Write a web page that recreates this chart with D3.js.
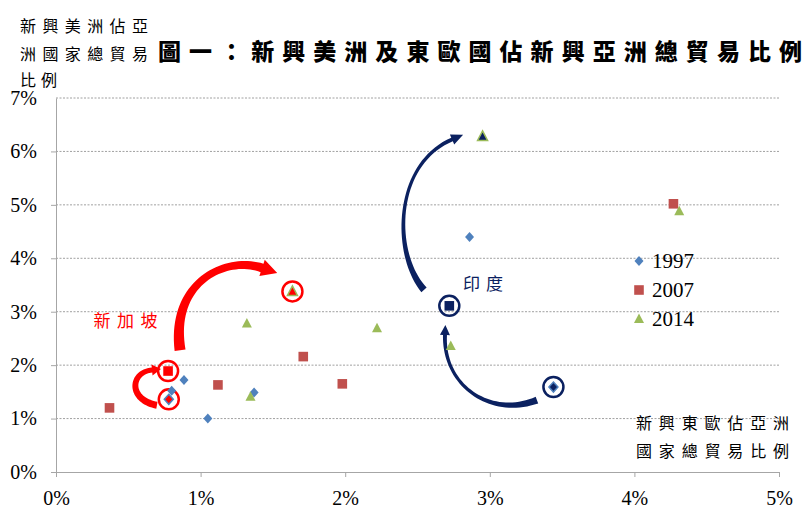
<!DOCTYPE html>
<html>
<head>
<meta charset="utf-8">
<script src="https://cdn.jsdelivr.net/npm/d3@7"></script>
<style>
body { margin: 0; background: #fff; }
svg { display: block; }
.tick text { font-family: "Liberation Serif", "Times New Roman", serif; font-size: 20px; fill: #000; }
.axis path, .axis line { stroke: #a6a6a6; }
</style>
</head>
<body>
<svg id="chart" width="805" height="505"></svg>
<script>
// x = 新興東歐佔亞洲總貿易比例 (%), y = 新興美洲佔亞洲總貿易比例 (%)
const years = ["1997", "2007", "2014"];
const colors = ["#4f81bd", "#c0504d", "#9bbb59"];

const eu1997 = [2.86, 3.44, 0.885, 0.80, 0.78, 1.05, 1.37];
const am1997 = [4.40, 1.59, 1.72, 1.52, 1.36, 1.00, 1.49];
const tag1997 = ["", "印度", "", "", "新加坡", "", ""];

const eu2007 = [0.37, 0.775, 1.12, 1.71, 1.98, 2.72, 4.27];
const am2007 = [1.20, 1.89, 1.63, 2.16, 1.65, 3.11, 5.02];
const tag2007 = ["", "新加坡", "", "", "", "印度", ""];

const eu2014 = [2.95, 4.31, 1.635, 1.32, 1.345, 2.22, 2.73];
const am2014 = [6.28, 4.88, 3.38, 2.78, 1.41, 2.69, 2.36];
const tag2014 = ["印度", "", "新加坡", "", "", "", ""];

const xTicks = [0, 1, 2, 3, 4, 5];
const yTicks = [0, 1, 2, 3, 4, 5, 6, 7];

const highlight = { "新加坡": "#ff0000", "印度": "#0b2160" };

// annotation arrows in data units: cubic bezier points
const sgpBigArrow = [[0.858, 2.28], [0.79, 3.55], [1.17, 4.05], [1.425, 3.82]];
const sgpSmallArrow = [[0.698, 1.25], [0.498, 1.35], [0.512, 1.87], [0.664, 1.91]];
const indLowArrow = [[3.326, 1.345], [3.00, 1.007], [2.676, 1.627], [2.69, 2.565]];
const indHighArrow = [[2.545, 3.409], [2.33, 4.066], [2.33, 5.754], [2.739, 6.223]];

const series = [
    { name: years[0], xs: eu1997, ys: am1997, tags: tag1997, shape: "diamond" },
    { name: years[1], xs: eu2007, ys: am2007, tags: tag2007, shape: "square" },
    { name: years[2], xs: eu2014, ys: am2014, tags: tag2014, shape: "triangle" }
];

const svg = d3.select("#chart");
const x = d3.scaleLinear().domain([0, 5]).range([56, 779]);
const y = d3.scaleLinear().domain([0, 7]).range([472, 98]);

const shapes = {
    diamond: "M0,-5L4.5,0L0,5L-4.5,0Z",
    square: "M-4.8,-4.8H4.8V4.8H-4.8Z",
    triangle: "M0,-5.5L5,4L-5,4Z"
};

// gridlines
svg.append("g").selectAll("line")
    .data(yTicks.filter(d => d > 0))
    .enter().append("line")
    .attr("x1", x(0)).attr("x2", x(5))
    .attr("y1", d => y(d)).attr("y2", d => y(d))
    .attr("stroke", "#a0a0a0")
    .attr("stroke-dasharray", "2,1.5");

// axes
svg.append("g").attr("class", "axis")
    .attr("transform", "translate(0," + y(0) + ")")
    .call(d3.axisBottom(x).tickValues(xTicks).tickFormat(d => d + "%").tickSizeInner(5).tickSizeOuter(0).tickPadding(14));

svg.append("g").attr("class", "axis")
    .attr("transform", "translate(" + x(0) + ",0)")
    .call(d3.axisLeft(y).tickValues(yTicks).tickFormat(d => d + "%").tickSizeInner(5).tickSizeOuter(0).tickPadding(14))
    .call(g => g.selectAll(".tick").filter(d => d === 7).select("line").remove());

// tapered curved arrow
function curvedArrow(pts, w0, wm, w1, headW, headL, color) {
    const P = pts.map(d => [x(d[0]), y(d[1])]);
    const bez = t => {
        const u = 1 - t;
        return [0, 1].map(k => u * u * u * P[0][k] + 3 * u * u * t * P[1][k] + 3 * u * t * t * P[2][k] + t * t * t * P[3][k]);
    };
    const der = t => {
        const u = 1 - t;
        const v = [0, 1].map(k => 3 * u * u * (P[1][k] - P[0][k]) + 6 * u * t * (P[2][k] - P[1][k]) + 3 * t * t * (P[3][k] - P[2][k]));
        const l = Math.hypot(v[0], v[1]);
        return [v[0] / l, v[1] / l];
    };
    const n = 40, left = [], right = [];
    for (let i = 0; i <= n; i++) {
        const t = i / n, p = bez(t), d = der(t);
        const nr = [-d[1], d[0]];
        const w = (1 - t) * (1 - t) * w0 + 2 * t * (1 - t) * wm + t * t * w1;
        left.push([p[0] + nr[0] * w / 2, p[1] + nr[1] * w / 2]);
        right.push([p[0] - nr[0] * w / 2, p[1] - nr[1] * w / 2]);
    }
    const pe = bez(1), de = der(1), ne = [-de[1], de[0]];
    const outline = left.concat([
        [pe[0] + ne[0] * headW / 2, pe[1] + ne[1] * headW / 2],
        [pe[0] + de[0] * headL, pe[1] + de[1] * headL],
        [pe[0] - ne[0] * headW / 2, pe[1] - ne[1] * headW / 2]
    ]).concat(right.reverse());
    svg.append("path")
        .attr("d", d3.line()(outline) + "Z")
        .attr("fill", color);
}

curvedArrow(sgpBigArrow, 11, 5, 9, 17, 16, highlight["新加坡"]);
curvedArrow(sgpSmallArrow, 7, 6, 5, 11, 9, highlight["新加坡"]);
curvedArrow(indLowArrow, 7, 1.5, 4, 10, 10, highlight["印度"]);
curvedArrow(indHighArrow, 7, 1.5, 4, 11, 12, highlight["印度"]);

// points
series.forEach((s, si) => {
    const pts = s.xs.map((v, i) => ({ x: v, y: s.ys[i], tag: s.tags[i] }));
    const g = svg.append("g");
    g.selectAll("circle")
        .data(pts.filter(d => d.tag && !(s.shape === "triangle" && d.tag === "印度")))
        .enter().append("circle")
        .attr("cx", d => x(d.x)).attr("cy", d => y(d.y))
        .attr("r", 10)
        .attr("fill", "none")
        .attr("stroke", d => highlight[d.tag])
        .attr("stroke-width", 2.5);
    g.selectAll("path")
        .data(pts)
        .enter().append("path")
        .attr("transform", d => "translate(" + x(d.x) + "," + y(d.y) + ")")
        .attr("d", shapes[s.shape])
        .attr("fill", d => d.tag ? highlight[d.tag] : colors[si])
        .attr("stroke", d => d.tag && s.shape !== "square" ? colors[si] : "none")
        .attr("stroke-width", 1.5);
});

// legend
const legend = svg.append("g").attr("transform", "translate(639,261)");
series.forEach((s, i) => {
    legend.append("path")
        .attr("transform", "translate(0," + i * 29 + ")")
        .attr("d", shapes[s.shape])
        .attr("fill", colors[i]);
    legend.append("text")
        .attr("x", 13).attr("y", i * 29 + 7)
        .attr("font-family", "Liberation Serif, Times New Roman, serif")
        .attr("font-size", 21)
        .text(s.name);
});

// titles
const cjk = "'Noto Sans CJK TC', 'Noto Sans CJK SC', sans-serif";
svg.append("text")
    .attr("x", 158).attr("y", 60)
    .attr("font-family", cjk).attr("font-size", 23).attr("font-weight", "900")
    .attr("textLength", 644).attr("lengthAdjust", "spacing")
    .text("圖一：新興美洲及東歐國佔新興亞洲總貿易比例");

const yTitle = ["新興美洲佔亞", "洲國家總貿易", "比例"];
const yTitleLen = [128, 128, 37];
svg.append("g").selectAll("text")
    .data(yTitle).enter().append("text")
    .attr("x", 20).attr("y", (d, i) => [32, 60, 86][i])
    .attr("font-family", cjk).attr("font-size", 16)
    .attr("textLength", (d, i) => yTitleLen[i]).attr("lengthAdjust", "spacing")
    .text(d => d);

const xTitle = ["新興東歐佔亞洲", "國家總貿易比例"];
svg.append("g").selectAll("text")
    .data(xTitle).enter().append("text")
    .attr("x", 636).attr("y", (d, i) => [429, 457][i])
    .attr("font-family", cjk).attr("font-size", 16)
    .attr("textLength", 153).attr("lengthAdjust", "spacing")
    .text(d => d);

// country labels
svg.append("text")
    .attr("x", x(0.26)).attr("y", y(2.72))
    .attr("font-family", cjk).attr("font-size", 17)
    .attr("textLength", 64).attr("lengthAdjust", "spacing")
    .attr("fill", highlight["新加坡"])
    .text("新加坡");
svg.append("text")
    .attr("x", x(2.815)).attr("y", y(3.4))
    .attr("font-family", cjk).attr("font-size", 17)
    .attr("textLength", 40).attr("lengthAdjust", "spacing")
    .attr("fill", highlight["印度"])
    .text("印度");
</script>
</body>
</html>
